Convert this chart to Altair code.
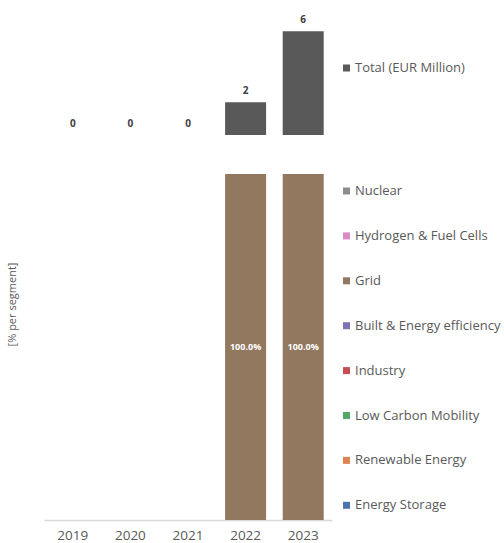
import altair as alt
import pandas as pd

# Years on the shared x axis
years = ["2019", "2020", "2021", "2022", "2023"]

# Total amount per year (EUR million)
totals = [0.0, 0.0, 0.0, 1.9, 6.0]

# Segments in legend order (top to bottom) and their colours
segments = [
    "Nuclear",
    "Hydrogen & Fuel Cells",
    "Grid",
    "Built & Energy efficiency",
    "Industry",
    "Low Carbon Mobility",
    "Renewable Energy",
    "Energy Storage",
]
segment_colors = [
    "#8C8C8C",
    "#DA8BC3",
    "#937860",
    "#8172B3",
    "#C44E52",
    "#55A868",
    "#DD8452",
    "#4C72B0",
]

# Share of each segment per year (rows follow `segments`, columns follow `years`)
shares = {
    "Nuclear": [0, 0, 0, 0.0, 0.0],
    "Hydrogen & Fuel Cells": [0, 0, 0, 0.0, 0.0],
    "Grid": [0, 0, 0, 1.0, 1.0],
    "Built & Energy efficiency": [0, 0, 0, 0.0, 0.0],
    "Industry": [0, 0, 0, 0.0, 0.0],
    "Low Carbon Mobility": [0, 0, 0, 0.0, 0.0],
    "Renewable Energy": [0, 0, 0, 0.0, 0.0],
    "Energy Storage": [0, 0, 0, 0.0, 0.0],
}

total_label = "Total (EUR Million)"
TEXT = "#595959"
FONT = "Open Sans"

totals_df = pd.DataFrame({"year": years, "total": totals, "series": total_label})

rows = []
for i, seg in enumerate(segments):
    for j, yr in enumerate(years):
        rows.append({
            "year": yr,
            "segment": seg,
            "share": shares[seg][j],
            # stack from the bottom of the legend upwards
            "stack": len(segments) - 1 - i,
        })
shares_df = pd.DataFrame(rows)

band = alt.Scale(paddingInner=0.29, paddingOuter=0.145)

# Upper panel: totals
top_base = alt.Chart(totals_df).encode(
    x=alt.X("year:N", sort=years, axis=None, scale=band),
    y=alt.Y("total:Q", axis=None, scale=alt.Scale(domain=[0, 7])),
)
top_bars = top_base.mark_bar(size=41).encode(
    color=alt.Color(
        "series:N",
        scale=alt.Scale(domain=[total_label], range=["#595959"]),
        legend=alt.Legend(
            title=None, orient="none", legendX=296, legendY=47.5,
            symbolType="square", symbolSize=49, symbolStrokeWidth=0,
            labelFontSize=13, labelColor=TEXT, labelFont=FONT, labelOffset=2,
            padding=0,
        ),
    )
)
top_labels = top_base.mark_text(
    baseline="bottom", dy=-6, fontSize=10, fontWeight="bold", color="#404040", font=FONT
).encode(text=alt.Text("total:Q", format=".0f"))
top = (top_bars + top_labels).properties(width=288, height=121)

# Lower panel: share per segment
bottom_base = alt.Chart(shares_df).encode(
    x=alt.X(
        "year:N", sort=years, title=None, scale=band,
        axis=alt.Axis(labelAngle=0, ticks=False, labelFontSize=13.5, labelColor=TEXT,
                      labelFont=FONT, labelPadding=8, domainColor="#D9D9D9",
                      domainWidth=1.5),
    ),
)
bottom_bars = bottom_base.mark_bar(size=41).encode(
    y=alt.Y(
        "share:Q", stack="zero", scale=alt.Scale(domain=[0, 1]),
        axis=alt.Axis(title="[% per segment]", labels=False, ticks=False, domain=False,
                      grid=False, titleFontSize=11, titleColor=TEXT, titleFont=FONT,
                      titleFontWeight="normal", titlePadding=27, titleY=130),
    ),
    color=alt.Color(
        "segment:N",
        scale=alt.Scale(domain=segments, range=segment_colors),
        legend=alt.Legend(
            title=None, orient="none", legendX=296, legendY=10.5,
            symbolType="square", symbolSize=49, symbolStrokeWidth=0,
            labelFontSize=13, labelColor=TEXT, labelFont=FONT, labelOffset=2,
            rowPadding=30.9, padding=0,
        ),
    ),
    order=alt.Order("stack:Q", sort="ascending"),
)
bottom_labels = bottom_base.transform_filter(alt.datum.share > 0).transform_stack(
    stack="share", groupby=["year"], as_=["s0", "s1"],
    sort=[alt.SortField("stack", order="ascending")],
).transform_calculate(mid="(datum.s0 + datum.s1) / 2").mark_text(
    fontSize=9, fontWeight="bold", color="white", font=FONT
).encode(
    y=alt.Y("mid:Q", scale=alt.Scale(domain=[0, 1])),
    text=alt.Text("share:Q", format=".1%"),
)
bottom = (bottom_bars + bottom_labels).properties(width=288, height=346)

chart = (
    alt.vconcat(top, bottom, spacing=39)
    .resolve_scale(color="independent")
    .properties(padding={"left": 6, "top": 14, "right": 0, "bottom": 0})
    .configure(font=FONT)
    .configure_view(stroke="transparent", strokeWidth=0)
)

chart.save("out.html", embed_options={"renderer": "svg", "actions": False})
